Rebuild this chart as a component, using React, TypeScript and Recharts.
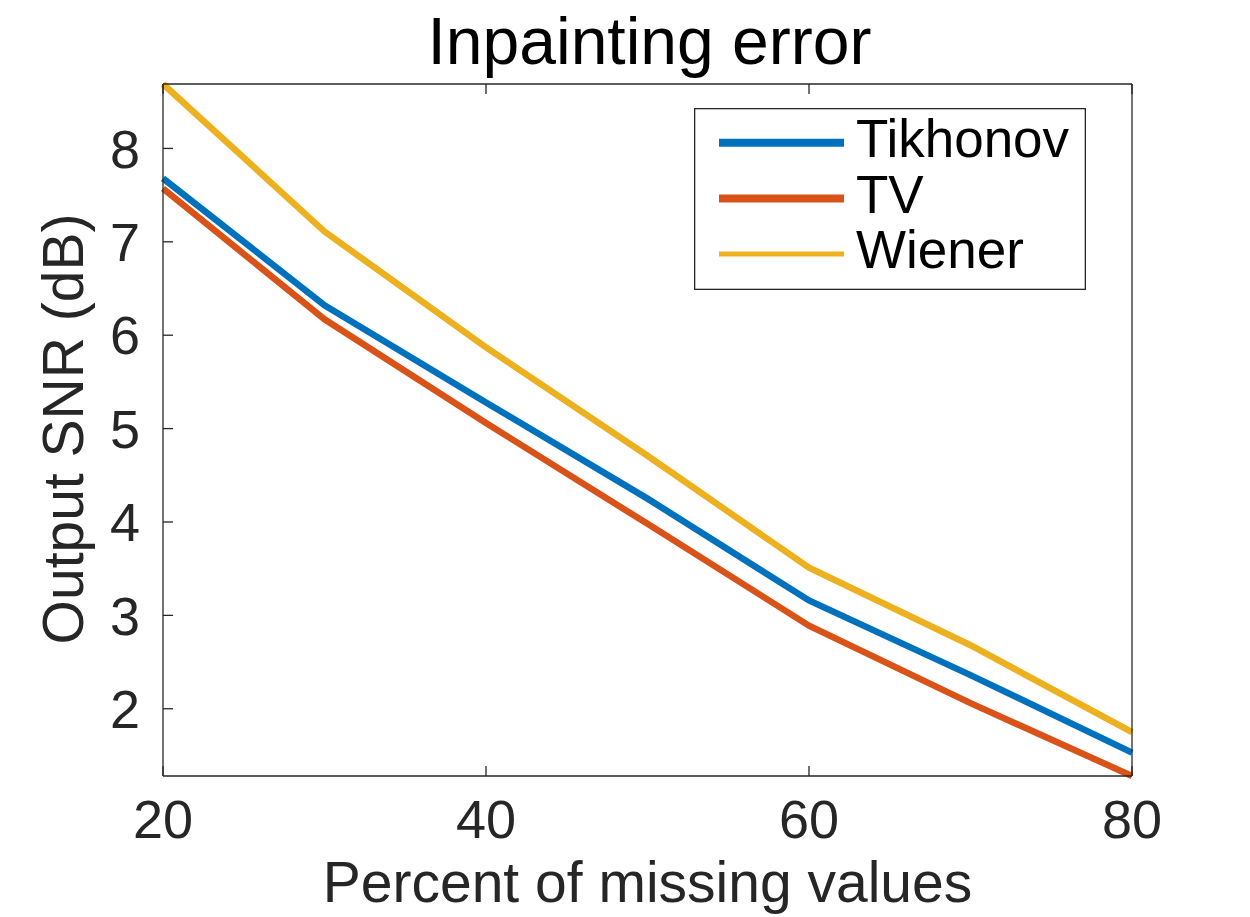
import { LineChart, Line, XAxis, YAxis, Legend } from "recharts"

const FONT = '"Liberation Sans", Arial, Helvetica, sans-serif'
const AXIS_COLOR = "#262626"

// percent of missing values
const missing = [20, 30, 40, 50, 60, 70, 80]
// output SNR (dB) per method
const tikhonov = [7.68, 6.32, 5.28, 4.25, 3.16, 2.36, 1.53]
const tv = [7.57, 6.17, 5.06, 3.98, 2.89, 2.06, 1.28]
const wiener = [8.69, 7.11, 5.87, 4.71, 3.51, 2.68, 1.75]

const seriesKeys = ["tikhonov", "tv", "wiener"]
const xTicks = [20, 40, 60, 80]
const yTicks = [2, 3, 4, 5, 6, 7, 8]
const yDomain = [1.28, 8.69]

const data = missing.map((x, i) => ({
  x,
  tikhonov: tikhonov[i],
  tv: tv[i],
  wiener: wiener[i],
}))

const legendWidths: Record<string, number> = { tikhonov: 8, tv: 8, wiener: 5 }

// box axes: keep the tick lines, drop the labels
const NoLabel = () => <g />

const renderLegend = (props: any) => {
  const payload = [...(props.payload || [])].sort(
    (a: any, b: any) => seriesKeys.indexOf(a.dataKey) - seriesKeys.indexOf(b.dataKey)
  )
  return (
    <svg width={392} height={182} style={{ display: "block" }}>
      <rect x={0.65} y={0.65} width={390.7} height={180.7} fill="#fff" stroke={AXIS_COLOR} strokeWidth={1.3} />
      {payload.map((entry: any, i: number) => (
        <g key={entry.value}>
          <line
            x1={25}
            x2={150}
            y1={34.7 + i * 55.7}
            y2={34.7 + i * 55.7}
            stroke={entry.color}
            strokeWidth={legendWidths[entry.dataKey] || 6}
          />
          <text x={162} y={48.7 + i * 55.8} fontSize={53} fontFamily={FONT} fill="#000">
            {entry.value}
          </text>
        </g>
      ))}
    </svg>
  )
}

export default function App() {
  return (
    <div style={{ position: "absolute", left: 0, top: 0, background: "#fff" }}>
      <LineChart width={1250} height={917} data={data} margin={{ top: 83, right: 117, bottom: 0, left: 0 }}>
        <XAxis
          dataKey="x"
          type="number"
          domain={[20, 80]}
          ticks={xTicks}
          interval={0}
          height={141}
          stroke={AXIS_COLOR}
          strokeWidth={1.3}
          tickSize={-10}
          tickMargin={34}
          tick={{ fontSize: 54, fill: AXIS_COLOR, fontFamily: FONT }}
          label={{
            content: ({ viewBox }: any) => (
              <text
                x={viewBox.x + viewBox.width / 2}
                y={902}
                textAnchor="middle"
                fontSize={57}
                fontFamily={FONT}
                fill={AXIS_COLOR}
              >
                Percent of missing values
              </text>
            ),
          }}
        />
        <XAxis
          xAxisId="top"
          orientation="top"
          dataKey="x"
          type="number"
          domain={[20, 80]}
          ticks={xTicks}
          interval={0}
          height={1}
          stroke={AXIS_COLOR}
          strokeWidth={1.3}
          tickSize={-10}
          tick={NoLabel}
          label={{
            content: ({ viewBox }: any) => (
              <text
                x={viewBox.x + viewBox.width / 2 + 2}
                y={64}
                textAnchor="middle"
                fontSize={66}
                fontFamily={FONT}
                fill="#000"
              >
                Inpainting error
              </text>
            ),
          }}
        />
        <YAxis
          type="number"
          domain={yDomain}
          ticks={yTicks}
          interval={0}
          width={163}
          stroke={AXIS_COLOR}
          strokeWidth={1.3}
          tickSize={-10}
          tickMargin={33}
          tick={{ fontSize: 54, fill: AXIS_COLOR, fontFamily: FONT }}
          label={{
            content: () => (
              <text
                x={83}
                y={429}
                transform="rotate(-90, 83, 429)"
                textAnchor="middle"
                fontSize={57}
                fontFamily={FONT}
                fill={AXIS_COLOR}
              >
                Output SNR (dB)
              </text>
            ),
          }}
        />
        <YAxis
          yAxisId="right"
          orientation="right"
          type="number"
          domain={yDomain}
          ticks={yTicks}
          interval={0}
          width={1}
          stroke={AXIS_COLOR}
          strokeWidth={1.3}
          tickSize={-10}
          tick={NoLabel}
        />
        <Legend
          layout="vertical"
          align="center"
          verticalAlign="middle"
          content={renderLegend}
          wrapperStyle={{ left: 694, top: 108, width: 392, height: 182 }}
        />
        <Line dataKey="tikhonov" name="Tikhonov" stroke="#0072BD" strokeWidth={6.5} dot={false} isAnimationActive={false} />
        <Line dataKey="tv" name="TV" stroke="#D95319" strokeWidth={6.5} dot={false} isAnimationActive={false} />
        <Line dataKey="wiener" name="Wiener" stroke="#EDB120" strokeWidth={6.5} dot={false} isAnimationActive={false} />
      </LineChart>
    </div>
  )
}
